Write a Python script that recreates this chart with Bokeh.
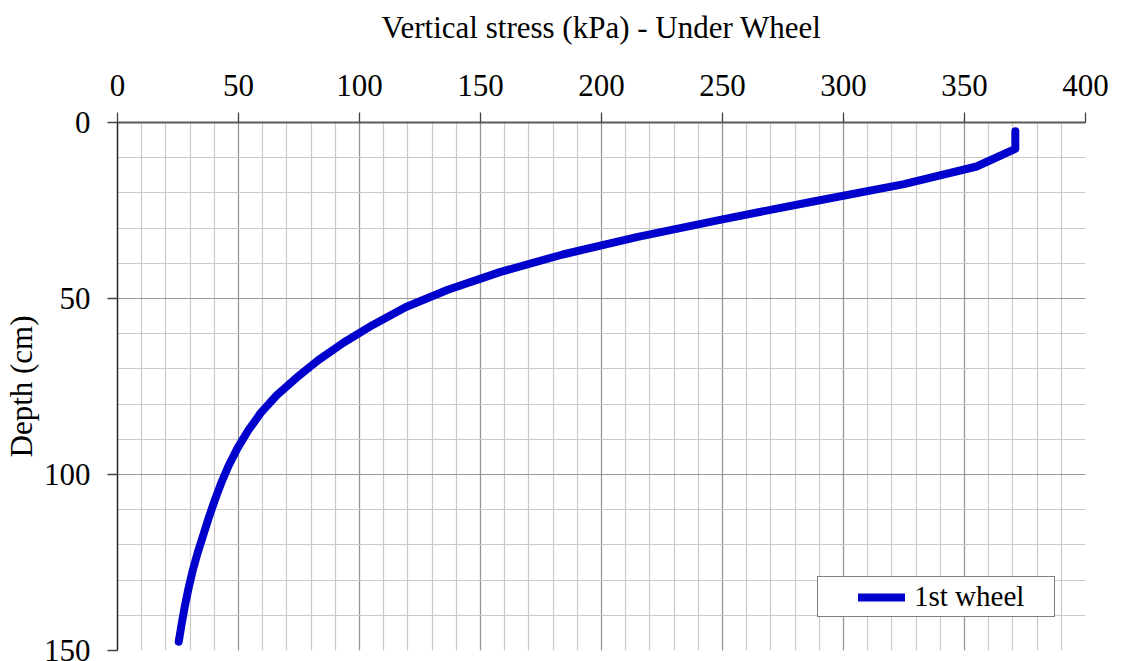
from bokeh.plotting import figure
from bokeh.models import Range1d, SingleIntervalTicker, FixedTicker
from bokeh.embed import file_html
from bokeh.resources import INLINE

# Depth below the surface (cm) and vertical stress under the 1st wheel (kPa)
depth_cm = [2.5, 7.5, 12.5, 17.5, 22.5, 27.5, 32.5, 37.5, 42.5, 47.5,
            52.5, 57.5, 62.5, 67.5, 72.5, 77.5, 82.5, 87.5, 92.5, 97.5,
            102.5, 107.5, 112.5, 117.5, 122.5, 127.5, 132.5, 137.5, 142.5, 147.5]
stress_kpa = [371, 371, 355, 325, 287, 250, 215, 184, 158, 136.5,
              119, 105.5, 93.5, 83, 74, 65.8, 59.2, 54.0, 49.6, 45.9,
              42.8, 40.1, 37.6, 35.3, 33.0, 31.0, 29.3, 27.8, 26.5, 25.3]

x_ticks = [0, 50, 100, 150, 200, 250, 300, 350, 400]
y_ticks = [0, 50, 100, 150]

FONT = "Liberation Serif"

p = figure(width=1122, height=661, output_backend="svg", toolbar_location=None,
           x_range=Range1d(0, 400), y_range=Range1d(150, 0),
           x_axis_location="above",
           min_border_left=117, min_border_right=37,
           min_border_top=122, min_border_bottom=11)
p.outline_line_color = None
p.background_fill_color = "white"
p.border_fill_color = "white"

# grids: major every 50, minor every 10 on both axes
for grid in (p.xgrid, p.ygrid):
    grid.ticker = SingleIntervalTicker(interval=50, num_minor_ticks=5)
    grid.grid_line_color = "#969696"
    grid.grid_line_width = 1.2
    grid.minor_grid_line_color = "#cacaca"
    grid.minor_grid_line_width = 1.2

# axes
xa = p.xaxis[0]
xa.ticker = FixedTicker(ticks=x_ticks)
xa.axis_label = "Vertical stress (kPa) - Under Wheel"
xa.axis_line_color = "#5a5a5a"
xa.axis_line_width = 2

ya = p.yaxis[0]
ya.ticker = FixedTicker(ticks=y_ticks)
ya.axis_label = "Depth (cm)"
ya.axis_line_color = "#262626"
ya.axis_line_width = 1.5

for ax in (xa, ya):
    ax.major_tick_out = 10
    ax.major_tick_in = 0
    ax.major_tick_line_color = "#404040"
    ax.major_tick_line_width = 1.3
    ax.minor_tick_line_color = None
    ax.major_label_text_font = FONT
    ax.major_label_text_font_size = "31px"
    ax.major_label_text_color = "black"
    ax.axis_label_text_font = FONT
    ax.axis_label_text_font_size = "31px"
    ax.axis_label_text_font_style = "normal"
    ax.axis_label_text_color = "black"

xa.major_label_standoff = 17
xa.axis_label_standoff = 27
ya.major_label_standoff = 17
ya.axis_label_standoff = 2

p.line(stress_kpa, depth_cm, line_width=8, line_color="#0000cc",
       line_cap="round", line_join="round", legend_label="1st wheel")

lg = p.legend[0]
lg.margin = 0
lg.spacing = 0
lg.glyph_width = 47
lg.label_standoff = 9
lg.label_width = 20
lg.label_text_font = FONT
lg.label_text_font_size = "29px"
lg.label_text_color = "black"
lg.border_line_color = "black"
lg.border_line_width = 1
lg.background_fill_color = "white"
lg.background_fill_alpha = 1
lg.location = (700, 33)
try:
    # wider space to the left of the line sample than to the right of the text
    lg.padding = dict(left=40, right=30, top=3, bottom=3)
except Exception:
    lg.padding = (40, 30, 3, 3)

open("out.html", "w").write(file_html(p, INLINE))
